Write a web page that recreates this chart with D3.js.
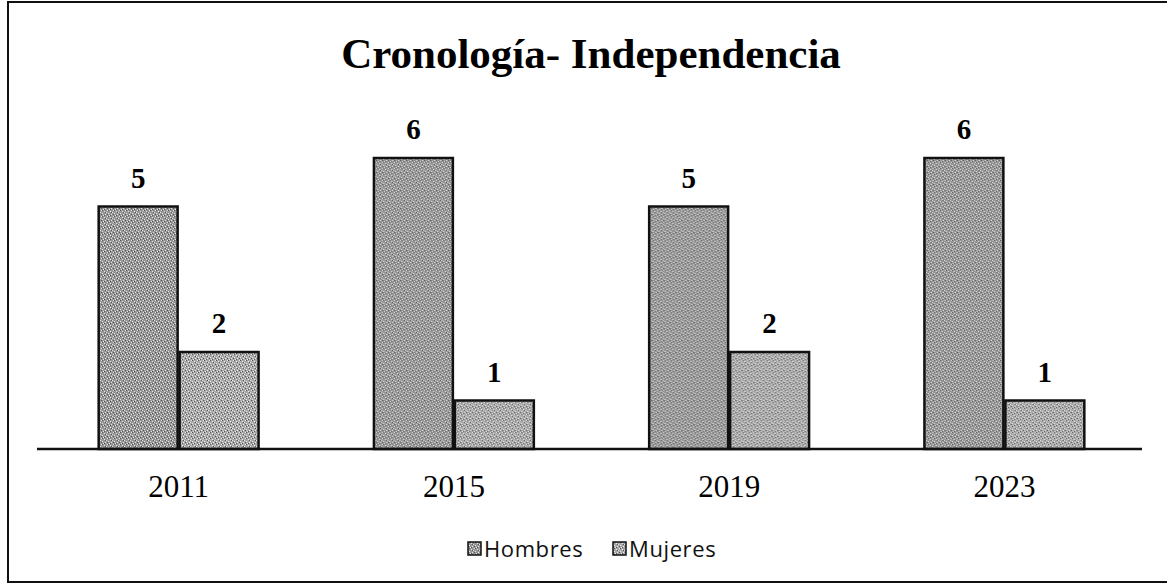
<!DOCTYPE html>
<html>
<head>
<meta charset="utf-8">
<script src="https://cdn.jsdelivr.net/npm/d3@7"></script>
<style>
  html, body { margin: 0; padding: 0; background: #fff; }
  svg { display: block; }
</style>
</head>
<body>
<svg id="chart" width="1167" height="586"></svg>
<script>
const categories = ["2011", "2015", "2019", "2023"];
const seriesNames = ["Hombres", "Mujeres"];
const hombres = [5, 6, 5, 6];
const mujeres = [2, 1, 2, 1];
const titleText = "Cronología- Independencia";

const seriesValues = { Hombres: hombres, Mujeres: mujeres };
const svg = d3.select("#chart");
const W = 1167, H = 586;

// patterns (scan-like stipple)
const defs = svg.append("defs");
function makePattern(id, base, dot) {
  const p = defs.append("pattern").attr("id", id)
    .attr("patternUnits", "userSpaceOnUse").attr("width", 6).attr("height", 6);
  p.append("rect").attr("width", 6).attr("height", 6).attr("fill", base);
  [[0,0],[3,1],[1,3],[4,4],[2,5],[5,2]].forEach(([a,b]) =>
    p.append("rect").attr("x", a).attr("y", b).attr("width", 1).attr("height", 1).attr("fill", dot));
  [[1,0],[4,2],[0,4],[3,5]].forEach(([a,b]) =>
    p.append("rect").attr("x", a).attr("y", b).attr("width", 1).attr("height", 1).attr("fill", "#555"));
}
makePattern("patH", "#969696", "#e6e6e6");
makePattern("patM", "#a8a8a8", "#ececec");
const fills = { Hombres: "url(#patH)", Mujeres: "url(#patM)" };

// frame
svg.append("path")
  .attr("d", `M${W + 5},2 H8 V582 H${W + 5}`)
  .attr("fill", "none").attr("stroke", "#111").attr("stroke-width", 2);

// title
svg.append("text")
  .attr("x", 591).attr("y", 68)
  .attr("text-anchor", "middle")
  .attr("font-family", "'Liberation Serif', 'Times New Roman', serif")
  .attr("font-weight", "bold").attr("font-size", 43)
  .attr("fill", "#000")
  .text(titleText);

// scales
const x0 = d3.scaleBand().domain(categories).range([41, 1142]).padding(0);
const x1 = d3.scaleBand().domain(seriesNames).range([0, x0.bandwidth()])
  .paddingInner(0).paddingOuter(0.7);
const y = d3.scaleLinear().domain([0, 6]).range([449, 158]);

// bars
const groups = svg.append("g").selectAll("g")
  .data(categories).join("g")
  .attr("transform", d => `translate(${x0(d)},0)`);

groups.selectAll("rect")
  .data((d, i) => seriesNames.map(s => ({ s, v: seriesValues[s][i] })))
  .join("rect")
  .attr("x", d => x1(d.s) + 1)
  .attr("y", d => y(d.v))
  .attr("width", x1.bandwidth() - 2)
  .attr("height", d => y(0) - y(d.v))
  .attr("fill", d => fills[d.s])
  .attr("stroke", "#111").attr("stroke-width", 2.5);

groups.selectAll("text.lbl")
  .data((d, i) => seriesNames.map(s => ({ s, v: seriesValues[s][i] })))
  .join("text").attr("class", "lbl")
  .attr("x", d => x1(d.s) + x1.bandwidth() / 2)
  .attr("y", d => y(d.v) - 19)
  .attr("text-anchor", "middle")
  .attr("font-family", "'Liberation Serif', 'Times New Roman', serif")
  .attr("font-weight", "bold").attr("font-size", 29)
  .attr("fill", "#000")
  .text(d => d.v);

// x axis
const xAxis = svg.append("g")
  .attr("transform", `translate(0,${y(0)})`)
  .call(d3.axisBottom(x0).tickSize(0).tickPadding(26));
xAxis.select(".domain").attr("stroke", "#111").attr("stroke-width", 2.5)
  .attr("d", "M37,0H1142");
xAxis.selectAll("text")
  .attr("font-family", "'Liberation Serif', 'Times New Roman', serif")
  .attr("font-size", 31).attr("fill", "#000");

// legend
const legendX = [468, 613];
const lg = svg.append("g").selectAll("g").data(seriesNames).join("g")
  .attr("transform", (d, i) => `translate(${legendX[i]},542)`);
lg.append("rect").attr("width", 13).attr("height", 13)
  .attr("fill", d => fills[d]).attr("stroke", "#111").attr("stroke-width", 1.5);
lg.append("text").attr("x", 16).attr("y", 15)
  .attr("font-family", "'Open Sans', 'Noto Sans', sans-serif")
  .attr("font-size", 22).attr("letter-spacing", 0.6).attr("fill", "#111")
  .text(d => d);
</script>
</body>
</html>
